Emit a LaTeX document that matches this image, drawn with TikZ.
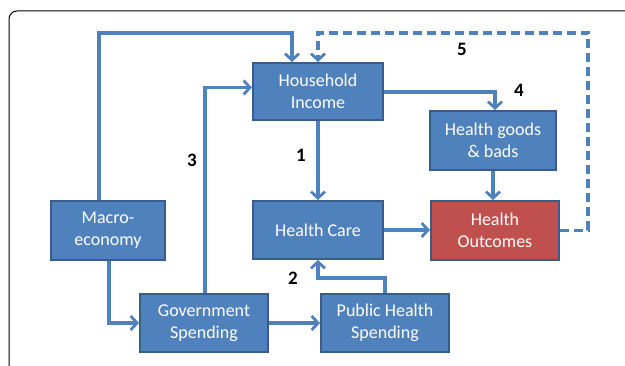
\documentclass[tikz,border=0pt]{standalone}
\usepackage{fontspec}
\setmainfont{Carlito}
\usetikzlibrary{arrows.meta,calc}
\definecolor{boxblue}{HTML}{4F81BD}
\definecolor{boxedge}{HTML}{385D8A}
\definecolor{boxred}{HTML}{C0504D}
\definecolor{linkblue}{HTML}{4F81BD}
\begin{document}
\begin{tikzpicture}[x=1pt,y=-1pt,
  box/.style={draw=boxedge, line width=2pt, fill=boxblue, text=white, align=center,
    font=\fontsize{18}{22}\selectfont, inner sep=0pt},
  link/.style={draw=linkblue, line width=3.2pt,
    -{Straight Barb[length=6.5pt,width=14pt,line width=2.8pt]}},
  num/.style={font=\bfseries\fontsize{19}{20}\selectfont, text=black}]
\useasboundingbox (0,0) rectangle (625,366);
\draw[line width=1pt, rounded corners=8pt] (9,366) -- (9,11) -- (625,11);

\node[box, minimum width=130pt, minimum height=57pt] (hi) at (318,91.5) {Household\\Income};
\node[box, minimum width=126pt, minimum height=59pt] (hg) at (493,140.5) {Health goods\\\& bads};
\node[box, minimum width=130pt, minimum height=58pt] (hc) at (318,230) {Health Care};
\node[box, fill=boxred, minimum width=128pt, minimum height=59pt] (ho) at (495,230.5) {Health\\Outcomes};
\node[box, minimum width=114pt, minimum height=59pt] (me) at (108,230.5) {Macro-\\economy};
\node[box, minimum width=128pt, minimum height=58pt] (gs) at (204,323) {Government\\Spending};
\node[box, minimum width=128pt, minimum height=58pt] (phs) at (385,323) {Public Health\\Spending};

\draw[link] ($(me.north)+(-9,0)$) |- ($(hi.north)+(-26,-29)$) -- ($(hi.north)+(-26,0)$);
\draw[link, dash pattern=on 9pt off 5pt] (ho.east) -- ++(28,0) |- ($(hi.north)+(0,-29)$) -- (hi.north);
\draw[link] ($(gs.north)+(1,0)$) |- ($(hi.west)+(0,-4)$);
\draw[link] ($(hi.east)+(0,0.5)$) -| ($(hg.north)+(2,0)$);
\draw[link] (hi.south) -- (hc.north);
\draw[link] (hg.south) -- (hg.south |- ho.north);
\draw[link] (hc.east) -- (hc.east -| ho.west);
\draw[link] ($(me.south)+(1,0)$) |- (gs.west);
\draw[link] (gs.east) -- (gs.east -| phs.west);
\draw[link] (phs.north) |- ($(hc.south)+(0,18)$) -- (hc.south);

\node[num] (n1) at (301,155) {1};
\node[num] (n2) at (293,278) {2};
\node[num] (n3) at (192,160) {3};
\node[num] (n4) at (519,90) {4};
\node[num] (n5) at (462,49) {5};
\end{tikzpicture}
\end{document}
